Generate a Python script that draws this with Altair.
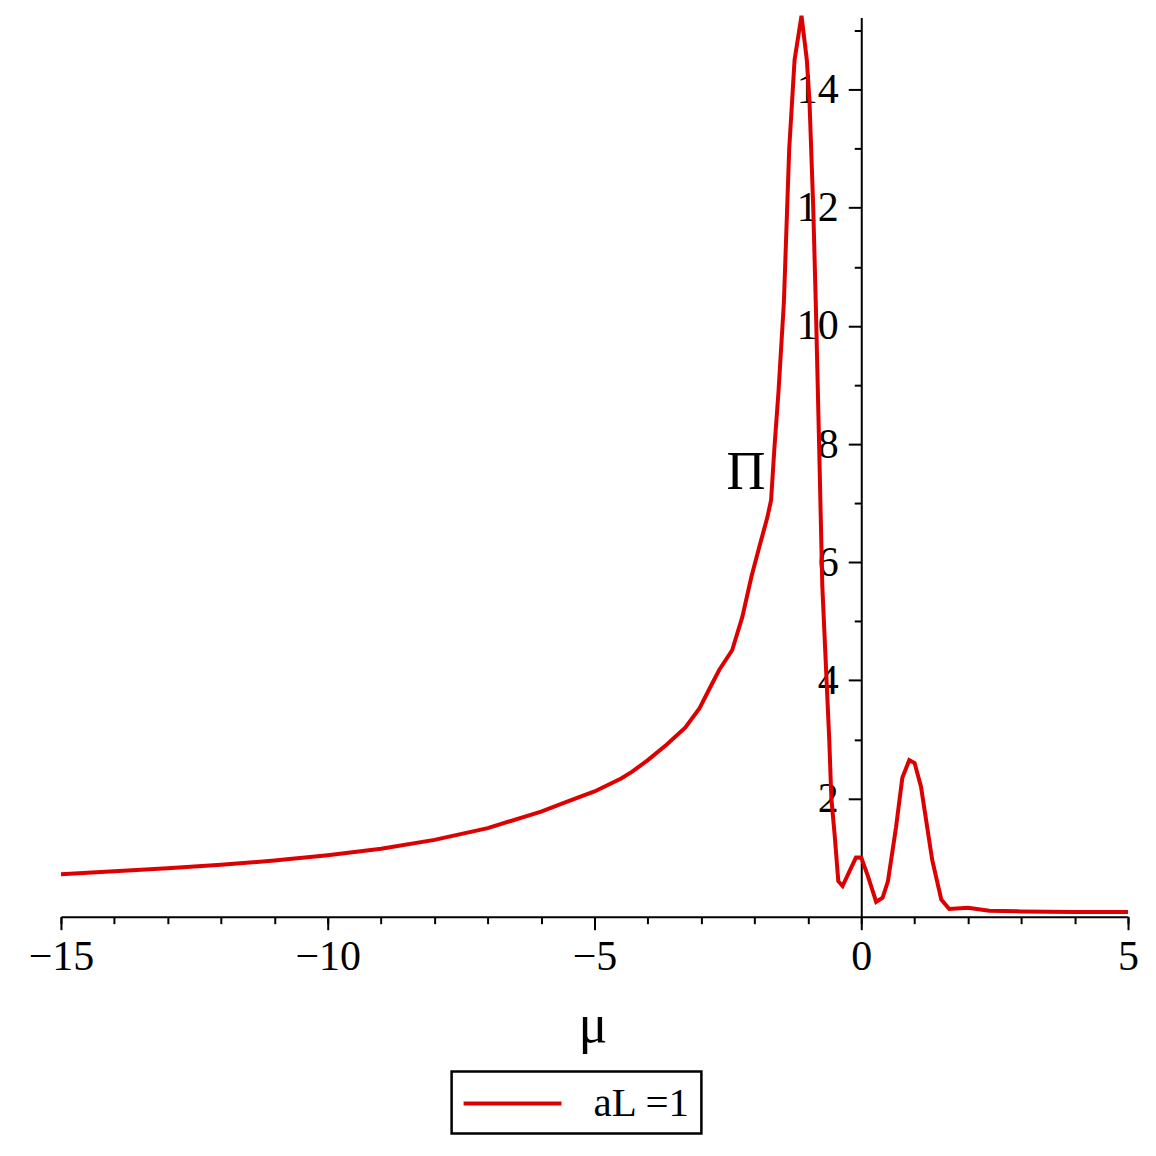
import altair as alt
import pandas as pd

mu = [-15, -14, -13, -12, -11, -10, -9, -8, -7, -6, -5.5, -5, -4.5, -4.3, -4,
      -3.65, -3.3, -3.03, -2.85, -2.66, -2.42, -2.23, -2.06, -1.91, -1.76,
      -1.69, -1.63, -1.55, -1.45, -1.35, -1.25, -1.12, -1.02, -0.97, -0.9,
      -0.85, -0.79, -0.73, -0.65, -0.6, -0.56, -0.5, -0.43, -0.35, -0.1, 0,
      0.12, 0.28, 0.4, 0.5, 0.65, 0.77, 0.9, 1.0, 1.12, 1.33, 1.5, 1.65, 2.0,
      2.4, 3.0, 4.0, 5.0]
pi_vals = [0.72, 0.77, 0.82, 0.88, 0.95, 1.04, 1.15, 1.3, 1.5, 1.78, 1.95,
           2.12, 2.34, 2.45, 2.65, 2.91, 3.2, 3.53, 3.85, 4.18, 4.51, 5.07,
           5.75, 6.26, 6.76, 7.05, 7.9, 8.9, 10.4, 13.0, 14.5, 15.25, 14.5,
           13.8, 12.0, 10.3, 8.0, 5.6, 4.0, 3.0, 2.0, 1.4, 0.6, 0.52, 1.0, 1.0,
           0.7, 0.25, 0.32, 0.6, 1.5, 2.35, 2.65, 2.6, 2.2, 0.96, 0.29, 0.13,
           0.15, 0.1, 0.09, 0.08, 0.08]
series = ["aL =1"] * len(mu)

x_major = [-15, -10, -5, 0, 5]
x_minor = list(range(-15, 6))
y_major = [2, 4, 6, 8, 10, 12, 14]
y_minor = [1, 3, 5, 7, 9, 11, 13, 15]

df = pd.DataFrame({"mu": mu, "pi": pi_vals, "series": series})

FONT = "Liberation Serif"
W, H = 1068, 900
Y_OFF = -801  # y axis sits at mu = 0

xs = alt.Scale(domain=[-15, 5], nice=False, zero=False)
ys = alt.Scale(domain=[0, 15.22], nice=False, zero=False)

main = alt.Chart(df).mark_line(strokeWidth=4).encode(
    x=alt.X("mu:Q", scale=xs, axis=alt.Axis(
        orient="bottom", values=x_major, format="d", grid=False,
        domainColor="black", domainWidth=2, tickColor="black", tickWidth=2,
        tickSize=13, labelFont=FONT, labelFontSize=42, labelColor="black",
        labelPadding=7, title="μ", titleFont=FONT, titleFontSize=54,
        titleFontWeight="normal", titleColor="black", titleX=532, titleY=125,
        titleAlign="center", titleBaseline="alphabetic", labelFlush=False)),
    y=alt.Y("pi:Q", scale=ys, axis=alt.Axis(
        orient="left", offset=Y_OFF, values=y_major, format="d", grid=False,
        domainColor="black", domainWidth=2, tickColor="black", tickWidth=2,
        tickSize=13, labelFont=FONT, labelFontSize=42, labelColor="black",
        labelPadding=10, labelBaseline="middle", title="Π", titleFont=FONT,
        titleFontSize=54, titleFontWeight="normal", titleColor="black",
        titleAngle=0, titleX=-116, titleY=471, titleAlign="center",
        titleBaseline="alphabetic", labelFlush=False)),
    color=alt.Color("series:N", scale=alt.Scale(domain=["aL =1"], range=["#dc0000"]),
                    legend=alt.Legend(orient="none", legendX=391, legendY=1055,
                                      title=None, symbolType="M-1,0L3.9,0",
                                      symbolSize=1600, symbolStrokeWidth=4,
                                      labelFont=FONT, labelFontSize=41,
                                      labelColor="black", labelOffset=88,
                                      padding=10, strokeColor="black")),
)

minor = alt.Chart(df).mark_line(opacity=0).encode(
    x=alt.X("mu:Q", scale=xs, axis=alt.Axis(
        orient="bottom", values=x_minor, labels=False, domain=False, grid=False,
        tickColor="black", tickWidth=2, tickSize=7, title=None)),
    y=alt.Y("pi:Q", scale=ys, axis=alt.Axis(
        orient="left", offset=Y_OFF, values=y_minor, labels=False, domain=False,
        grid=False, tickColor="black", tickWidth=2, tickSize=7, title=None)),
)

chart = alt.layer(main, minor).resolve_axis(x="independent", y="independent").properties(
    width=W, height=H,
    autosize=alt.AutoSizeParams(type="none"),
    padding={"left": 53, "top": 9, "right": 20, "bottom": 230},
).configure_view(strokeWidth=0).configure_legend(strokeWidth=2.5)

chart.save("out.html", embed_options={"renderer": "svg", "actions": False})
